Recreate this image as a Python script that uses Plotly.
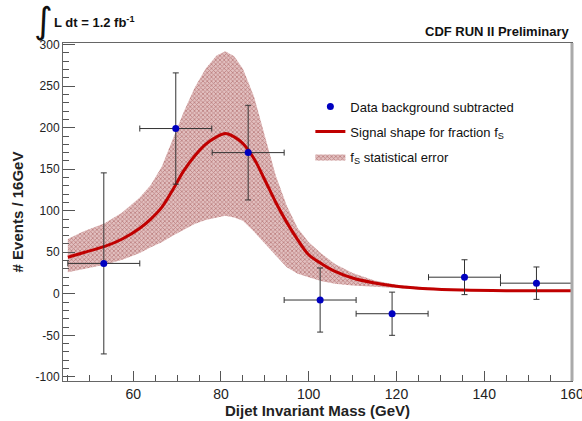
import plotly.graph_objects as go

# Data points (background subtracted)
data_x = [53.3, 69.7, 86.2, 102.6, 119.0, 135.5, 151.9]
data_y = [36.6, 199, 170, -7.5, -24, 20, 12.8]
data_xerr = [8.2, 8.2, 8.2, 8.2, 8.2, 8.2, 8.2]
data_yerr = [109, 67, 57, 38.6, 26, 21, 19.5]

# Signal shape curve
curve_x = [45.1, 48.6, 53.5, 57.5, 61.5, 64, 66.5, 69, 71.5, 74, 76.5, 79, 81, 83, 85,
           87.5, 90, 92.5, 95, 97.5, 100, 103, 106, 110, 115, 120, 127, 135, 145, 160]
curve_y = [44, 49.5, 57, 66, 79, 90, 104, 125, 148, 166, 180, 189, 193, 189, 181,
           163, 137, 110, 86, 65, 47, 36, 27, 19, 13, 9, 6, 4.5, 3.8, 3.6]
band_up = [66, 75, 85, 98, 116, 131, 153, 186, 219, 248, 271, 287, 292, 286, 271,
           238, 189, 142, 106, 79, 62, 48, 36, 25, 16, 11, 7.5, 5.3, 4.2, 3.8]
band_lo = [26, 30, 35, 41, 49, 56, 62, 70, 77, 84, 89, 92, 94, 92, 88,
           75, 60, 46, 32, 24, 20, 15, 12, 10, 8.5, 6.8, 4.8, 3.8, 3.4, 3.4]

x_range = [44, 160]
y_range = [-105, 302]
y_tick_vals = [-100, -50, 0, 50, 100, 150, 200, 250, 300]
y_tick_text = ["-100", "-50", "0", "50", "100", "150", "200", "250", "300"]
x_tick_vals = [60, 80, 100, 120, 140, 160]
x_tick_text = ["60", "80", "100", "120", "140", "160"]

fig = go.Figure()

fig.add_trace(go.Scatter(
    x=curve_x, y=band_lo, mode="lines", line=dict(width=0, color="rgba(0,0,0,0)"),
    showlegend=False, hoverinfo="skip"))
fig.add_trace(go.Scatter(
    x=curve_x, y=band_up, mode="lines", line=dict(width=0, color="rgba(0,0,0,0)"),
    fill="tonexty", fillcolor="rgba(215,175,175,1)",
    fillpattern=dict(shape="x", fgcolor="rgb(150,60,60)", bgcolor="rgb(226,192,192)",
                     size=3, solidity=0.45),
    name="f<sub>S</sub> statistical error", legendrank=3, legendgroup="c"))
fig.add_trace(go.Scatter(
    x=curve_x, y=curve_y, mode="lines", line=dict(color="#c00000", width=3, shape="spline"),
    name="Signal shape for fraction f<sub>S</sub>", legendrank=2, legendgroup="b"))
fig.add_trace(go.Scatter(
    x=data_x, y=data_y, mode="markers",
    marker=dict(color="#0000c0", size=7),
    error_x=dict(type="data", array=data_xerr, color="#333333", thickness=1, width=3),
    error_y=dict(type="data", array=data_yerr, color="#333333", thickness=1, width=3),
    name="Data background subtracted", legendrank=1, legendgroup="a"))

fig.update_layout(
    width=582, height=421,
    margin=dict(l=63, r=10, t=43, b=40),
    paper_bgcolor="white", plot_bgcolor="white",
    font=dict(family="Liberation Sans, Arial", color="#111111"),
    legend=dict(x=0.486, y=0.856, xanchor="left", yanchor="top",
                bgcolor="rgba(0,0,0,0)", font=dict(size=13, color="#111111"),
                traceorder="grouped", tracegroupgap=5, itemwidth=30),
    xaxis=dict(range=x_range, tickvals=x_tick_vals, ticktext=x_tick_text,
               ticks="inside", ticklen=10, automargin=False, ticklabeloverflow="allow",
               tickcolor="#555555", showline=True, linecolor="#666666", mirror=True,
               showgrid=False, zeroline=False,
               tickfont=dict(family="Liberation Sans, Arial", size=14, color="#222222"),
               minor=dict(dtick=5, tick0=0, ticks="inside", ticklen=6, tickcolor="#555555"),
               title=dict(text="<b>Dijet Invariant Mass (GeV)</b>",
                          font=dict(size=15, color="#222222"), standoff=4),
               tickprefix="<b>", ticksuffix="</b>"),
    yaxis=dict(range=y_range, tickvals=y_tick_vals, ticktext=y_tick_text,
               ticks="inside", ticklen=12, automargin=False, ticklabeloverflow="allow",
               tickcolor="#555555", showline=True, linecolor="#666666", mirror=True,
               showgrid=False, zeroline=False,
               tickfont=dict(family="Liberation Sans, Arial", size=12, color="#222222"),
               minor=dict(dtick=10, tick0=0, ticks="inside", ticklen=6, tickcolor="#555555"),
               title=dict(text="<b># Events / 16GeV</b>",
                          font=dict(size=15, color="#222222"), standoff=8),
               tickprefix="<b>", ticksuffix="</b>"),
)

# right frame shadow
fig.add_shape(type="line", xref="paper", yref="paper", x0=1, x1=1, y0=0, y1=1,
              line=dict(color="#aaaaaa", width=3))

fig.add_annotation(xref="paper", yref="paper", x=-0.060, y=1.066, xanchor="left", yanchor="middle",
                   text="∫", showarrow=False,
                   font=dict(family="DejaVu Sans", size=36, color="#111111"))
fig.add_annotation(xref="paper", yref="paper", x=-0.022, y=1.062, xanchor="left", yanchor="middle",
                   text="<b>L dt = 1.2 fb<sup>-1</sup></b>", showarrow=False,
                   font=dict(family="Liberation Sans, Arial", size=13, color="#111111"))
fig.add_annotation(xref="paper", yref="paper", x=1.0, y=1.0355, xanchor="right", yanchor="middle",
                   text="<b>CDF RUN II Preliminary</b>", showarrow=False,
                   font=dict(family="Liberation Sans, Arial", size=13, color="#111111"))

fig.write_html("out.html", config={"displayModeBar": False},
               post_script="document.body.style.margin='0';document.body.style.overflow='hidden';")
